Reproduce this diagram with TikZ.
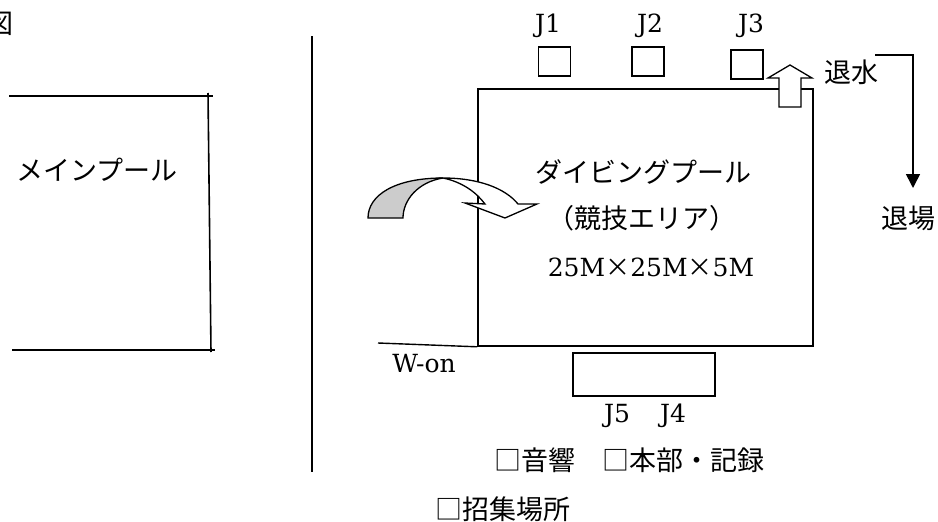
\documentclass[tikz,border=0pt]{standalone}
\usepackage{fontspec}
\newfontfamily\jp{Noto Sans CJK JP}
\newfontfamily\lat{DejaVu Serif}
\usetikzlibrary{arrows.meta}
\begin{document}
\begin{tikzpicture}[x=1pt,y=-1pt,
  jtext/.style={font=\jp\fontsize{27}{32}\selectfont, inner sep=0pt},
  ltext/.style={font=\lat\fontsize{25}{30}\selectfont, inner sep=0pt},
  wall/.style={line width=1.6pt},
  judgebox/.style={draw, line width=1.3pt, minimum width=32pt, minimum height=29pt, inner sep=0pt},
  blockarrow/.style={draw, line width=1.3pt, line join=miter, fill=white},
]
\useasboundingbox (0,0) rectangle (938,522);
\clip (0,0) rectangle (938,522);

\node[jtext, anchor=east] (zu) at (14,24) {図};

% main pool (open on the left)
\draw[wall] (9,96) -- (213,96);
\draw[wall] (208,93) -- (211,352);
\draw[wall] (12,350) -- (215,350);
\node[jtext] (mainpool) at (97,170) {メインプール};

% divider
\draw[line width=1.4pt] (312,36) -- (312,472);

% diving pool
\node[draw, wall, minimum width=335pt, minimum height=257pt, inner sep=0pt] (dpool) at (645.5,217.5) {};

% judges
\node[judgebox] (j1box) at (554.5,61.5) {};
\node[judgebox] (j2box) at (648,61.5) {};
\node[judgebox] (j3box) at (747,64.5) {};
\node[ltext] (j1) at (548,26) {J1};
\node[ltext] (j2) at (650,26) {J2};
\node[ltext] (j3) at (751,26) {J3};

% lower box
\node[draw, line width=1.3pt, minimum width=142pt, minimum height=43pt, inner sep=0pt] (hbox) at (644,374.5) {};
\node[ltext] (j54) at (645,416) {J5\hspace{30pt}J4};

% W-on line
\coordinate (wonl) at (378,343);
\draw[line width=1.4pt] (wonl) -- (dpool.south west);
\node[ltext] (won) at (424,364) {W-on};

% curved entry arrow
\fill[gray!40] (368,218) .. controls (368,195) and (395,178) .. (443,178)
  .. controls (418,182) and (403,200) .. (403,218) -- cycle;
\draw[line width=1.3pt, line join=miter] (368,218) .. controls (368,195) and (395,178) .. (443,178)
  .. controls (418,182) and (403,200) .. (403,218) -- cycle;
\draw[blockarrow] (443,178) .. controls (478,178) and (505,188) .. (518,204)
  -- (537,204) -- (505,218) -- (465,203) -- (485,204)
  .. controls (476,192) and (462,182) .. (443,178) -- cycle;

% drain arrow (up)
\draw[blockarrow] (779,107) -- (779,78) -- (768,78) -- (790,65) -- (812,78)
  -- (801,78) -- (801,107) -- cycle;
\node[jtext] (taisui) at (851,72) {退水};

% exit route
\coordinate (exs) at (875,55);
\node[jtext] (taijo) at (908,218) {退場};
\coordinate (exe) at (913,188);
\draw[line width=1.6pt, -{Triangle[width=14pt,length=14pt]}] (exs) -| (exe);

% texts in the diving pool
\node[jtext] (dname) at (643,172) {ダイビングプール};
\node[jtext] (area) at (642,218) {（競技エリア）};
\node[ltext] (size) at (651,267) {25M{\jp ×}25M{\jp ×}5M};

% legend
\node[jtext] (leg1) at (629,460) {□音響　□本部・記録};
\node[jtext] (leg2) at (503,509) {□招集場所};
\end{tikzpicture}
\end{document}
